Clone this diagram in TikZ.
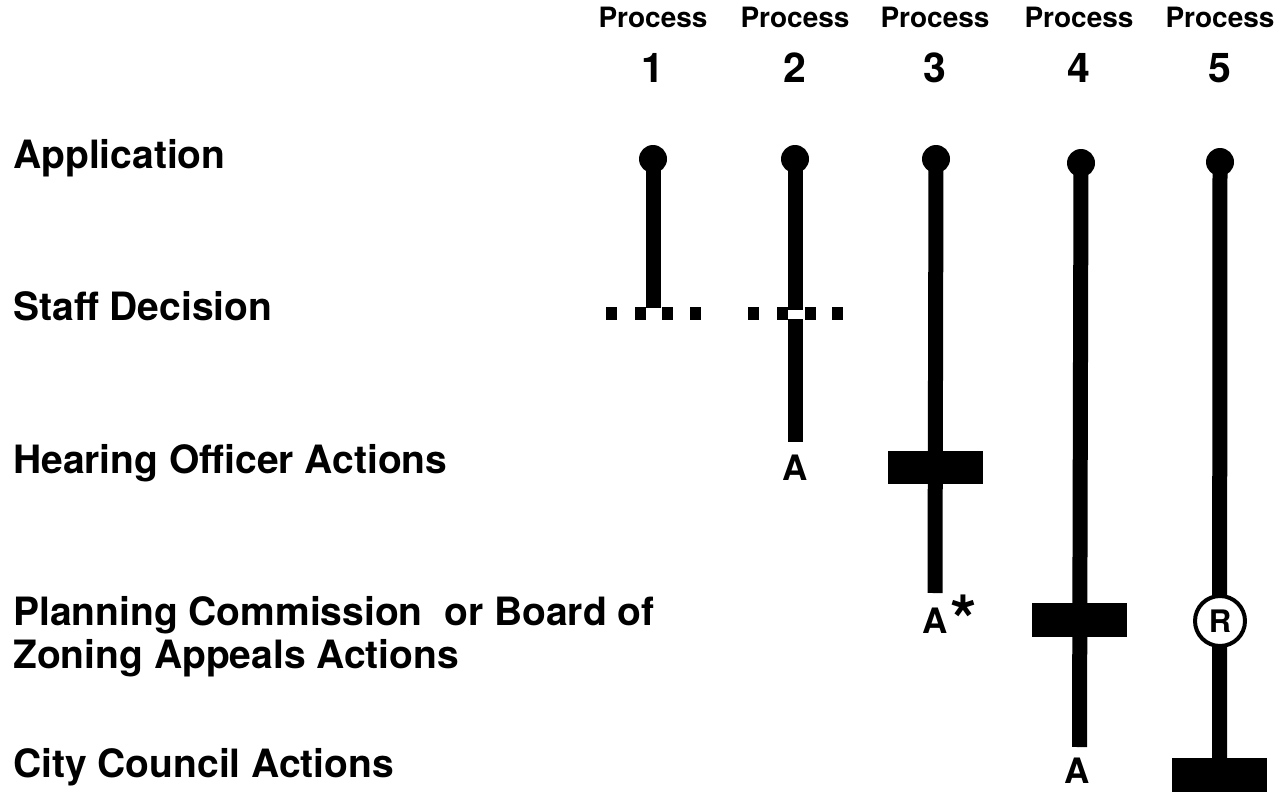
\documentclass[tikz,border=0pt]{standalone}
\usepackage{fontspec}
\setmainfont{TeX Gyre Heros}
\usetikzlibrary{positioning}

\begin{document}
\begin{tikzpicture}[x=1pt, y=-1pt,
    rowlabel/.style={anchor=base west, inner sep=0pt, font=\fontsize{39}{43}\selectfont\bfseries},
    header/.style={anchor=base, inner sep=0pt, font=\fontsize{28}{30}\selectfont\bfseries},
    number/.style={anchor=base, inner sep=0pt, font=\fontsize{41}{44}\selectfont\bfseries},
    ball/.style={circle, fill=black, minimum size=28pt, inner sep=0pt},
    bar/.style={line width=15pt},
    actionbox/.style={rectangle, fill=black, minimum width=95pt, minimum height=33pt, inner sep=0pt},
    outcome/.style={anchor=base, inner sep=0pt, font=\fontsize{35}{38}\selectfont\bfseries},
    review/.style={circle, draw, line width=4pt, fill=white, minimum size=50pt, inner sep=0pt, font=\fontsize{31}{33}\selectfont\bfseries},
  ]
  \useasboundingbox (0,0) rectangle (1280,792);

  % row labels
  \node[rowlabel] (app)   at (13,168) {Application};
  \node[rowlabel] (staff) at (13,320) {Staff Decision};
  \node[rowlabel] (hear)  at (13,473) {Hearing Officer Actions};
  \node[rowlabel] (plan)  at (13,625) {Planning Commission~ or Board of};
  \node[rowlabel] (zone)  at (13,668) {Zoning Appeals Actions};
  \node[rowlabel] (city)  at (13,777) {City Council Actions};

  % column headers
  \foreach \n/\x in {1/653, 2/795, 3/935, 4/1079, 5/1220} {
    \node[header] (p\n) at (\x,28) {Process};
    \node[number] (n\n) at (\x,83) {\n};
  }

  % applications
  \node[ball] (b1) at (653,159) {};
  \node[ball] (b2) at (795,159) {};
  \node[ball] (b3) at (936,159) {};
  \node[ball] (b4) at (1081,163) {};
  \node[ball] (b5) at (1220,162) {};

  % process 1
  \coordinate (e1) at (653,308);
  \draw[bar] (b1.center) -- (e1);

  % process 2
  \coordinate (e2) at (795,442);
  \draw[bar] (b2.center) -- (e2);
  \fill[white] (788,310) rectangle (805,319);
  \node[outcome] (a2) at (795,480) {A};

  % staff decision dots
  \foreach \x in {611,640,667,695,753,782.5,810,837.5}
    \fill (\x-5.5,307) rectangle (\x+5.5,320);

  % process 3
  \coordinate (e3) at (935,593);
  \draw[bar] (b3.center) -- (e3);
  \node[actionbox] (h3) at (935.5,467) {};
  \node[outcome] (a3) at (935,633) {A};
  \node[anchor=base, inner sep=0pt, font=\fontsize{68}{70}\selectfont\bfseries] (s3) at (964,644) {*};

  % process 4
  \coordinate (e4) at (1079.5,747);
  \draw[bar] (b4.center) -- (e4);
  \node[actionbox, minimum height=34pt] (c4) at (1079.5,620) {};
  \node[outcome] (a4) at (1077,783) {A};

  % process 5
  \node[actionbox, minimum height=34pt] (k5) at (1219.5,775) {};
  \draw[bar] (b5.center) -- (k5.north);
  \node[review] (r5) at (1220,621) {R};

\end{tikzpicture}
\end{document}
